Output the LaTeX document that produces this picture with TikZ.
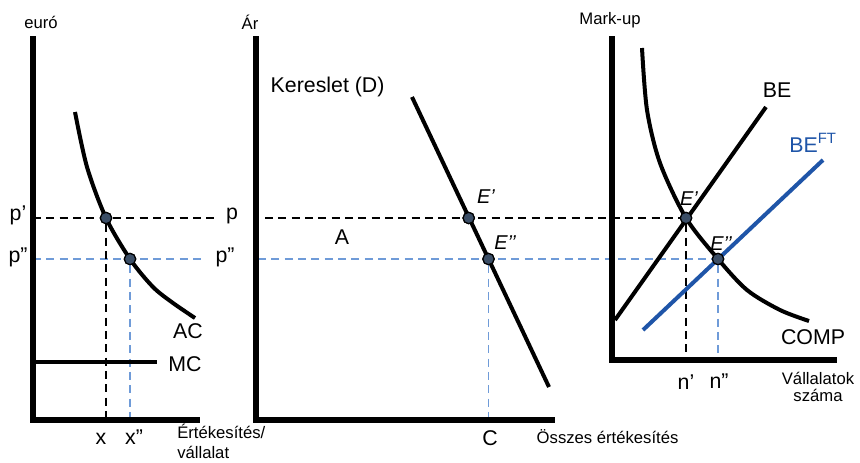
\documentclass[tikz,border=0pt]{standalone}
\usepackage{fontspec}
\setmainfont{Liberation Sans}
\definecolor{dotfill}{HTML}{3B4E66}
\definecolor{guideblue}{HTML}{6F9BD8}
\definecolor{ftblue}{HTML}{1F55A8}
\tikzset{
  axis/.style={line width=3.8pt},
  curve/.style={line width=3pt},
  guide/.style={dash pattern=on 6pt off 4pt, line width=1pt},
  bguide/.style={guide, guideblue},
  dot/.style={circle, draw=black, line width=0.9pt, fill=dotfill, inner sep=0pt, minimum size=8.5pt},
  lab/.style={font=\fontsize{16}{18}\selectfont},
  smalllab/.style={font=\fontsize{12.5}{15}\selectfont},
}
\begin{document}
\begin{tikzpicture}[x=0.75pt,y=-0.75pt]
    \useasboundingbox (0,0) rectangle (860,462);

    % Left panel: one firm
    \coordinate (lTop) at (33,36);
    \coordinate (lO) at (33,420);
    \coordinate (lEnd) at (200,420);
    \node[smalllab] (euro) at (41,22) {euró};
    \node[lab] (pA) at (18,215) {p’};
    \node[lab] (pB) at (18,257) {p”};
    \node[lab] (pR) at (232,216) {p};
    \node[lab] (pRR) at (225,257) {p”};
    \node[dot] (lE1) at (106,218) {};
    \node[dot] (lE2) at (130,259) {};
    \draw[guide] (lO |- lE1) -- ([xshift=-3pt]pR.west |- lE1);
    \draw[bguide] (lO |- lE2) -- ([xshift=-6pt]pRR.west |- lE2);
    \draw[guide] (lE1) -- (lE1 |- lO);
    \draw[bguide] (lE2) -- (lE2 |- lO);
    \draw[curve] plot[smooth] coordinates {(75,112) (87,167) (106,218) (130,259) (153,287) (173,303) (195,318)};
    \node[lab] (ac) at (188,331) {AC};
    \coordinate (mcA) at (33,362);
    \coordinate (mcB) at (157,362);
    \draw[curve] (mcA) -- (mcB);
    \node[lab] (mc) at (185,364) {MC};
    \node[lab] (xA) at (101,439) {x};
    \node[lab] (xB) at (134,437) {x”};
    \node[smalllab, anchor=north west, align=left, inner sep=0pt] (lxlab) at (177,424) {Értékesítés/\\vállalat};
    \node[dot] at (lE1) {};
    \node[dot] at (lE2) {};
    \draw[axis] (lTop) -- (lO) -- (lEnd);

    % Middle panel: market
    \coordinate (mTop) at (256,36);
    \coordinate (mO) at (256,420);
    \coordinate (mEnd) at (555,420);
    \node[smalllab] (ar) at (250,22) {Ár};
    \node[lab, anchor=west] (kereslet) at (266,87) {Kereslet (D)};
    \coordinate (dS) at (412,97);
    \coordinate (dE) at (549,387);
    \node[dot] (mE1) at (468.7,218) {};
    \node[dot] (mE2) at (488.5,259) {};
    \node[lab, font=\fontsize{15}{18}\selectfont\itshape] (mE1l) at (486,197) {E’};
    \node[lab, font=\fontsize{15}{18}\selectfont\itshape] (mE2l) at (505,243) {E’’};
    \node[lab] (A) at (342,237) {A};
    \node[lab] (C) at (490,438) {C};
    \node[smalllab, anchor=west] (osszes) at (532,437) {Összes értékesítés};

    % Right panel: number of firms
    \coordinate (rTop) at (612,36);
    \coordinate (rO) at (612,360);
    \coordinate (rEnd) at (837,360);
    \node[smalllab] (markup) at (610,20) {Mark-up};
    \node[dot] (rE1) at (686,218) {};
    \node[dot] (rE2) at (718,259) {};
    \coordinate (beA) at (615,320);
    \coordinate (beB) at (766,107);
    \coordinate (ftA) at (643,330);
    \coordinate (ftB) at (823,160);

    % Long guides across the panels
    \draw[guide] (265,218) -- (rE1);
    \draw[bguide] (258,259) -- (rE2);
    \draw[bguide] (mE2) -- (mE2 |- mO);
    \draw[guide] (rE1) -- (rE1 |- rO);
    \draw[bguide] (rE2) -- (rE2 |- rO);

    % Curves
    \draw[curve] (dS) -- (dE);
    \draw[curve] (beA) -- (beB);
    \draw[curve, ftblue] (ftA) -- (ftB);
    \draw[curve] plot[smooth] coordinates {(642,48) (647,110) (660,163) (686,218) (718,259) (747,290) (780,310) (809,321)};
    \node[lab] (be) at (777,90) {BE};
    \node[lab, ftblue] (beft) at (813,143) {BE\textsuperscript{FT}};
    \node[lab] (comp) at (813,337) {COMP};
    \node[lab, font=\fontsize{15}{18}\selectfont\itshape] (rE1l) at (689,199) {E’};
    \node[lab, font=\fontsize{15}{18}\selectfont\itshape] (rE2l) at (721,244) {E’’};
    \node[lab] (nA) at (686,382) {n’};
    \node[lab] (nB) at (719,381) {n”};
    \node[smalllab, align=center, font=\fontsize{12.5}{12.8}\selectfont] (vallalatok) at (818,387) {Vállalatok\\száma};

    % Dots on top
    \node[dot] at (mE1) {};
    \node[dot] at (mE2) {};
    \node[dot] at (rE1) {};
    \node[dot] at (rE2) {};

    % Axes
    \draw[axis] (mTop) -- (mO) -- (mEnd);
    \draw[axis] (rTop) -- (rO) -- (rEnd);
\end{tikzpicture}
\end{document}
